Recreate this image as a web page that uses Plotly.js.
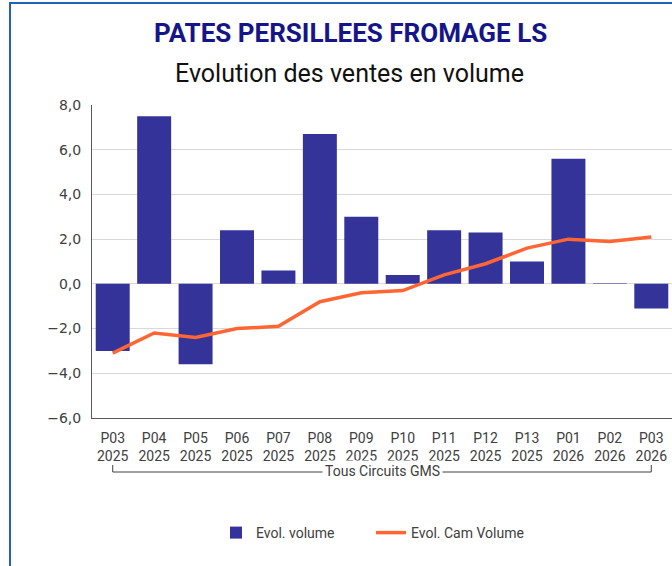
<!DOCTYPE html>
<html>
<head>
<meta charset="utf-8">
<script src="https://cdn.plot.ly/plotly-3.0.1.min.js"></script>
<style>
html,body{margin:0;padding:0;background:#fff;overflow:hidden;}
#chart{width:672px;height:566px;position:absolute;left:0;top:0;}
#frame{position:absolute;left:9px;top:2px;width:800px;height:700px;border-left:2px solid #2063b4;border-top:2px solid #2063b4;pointer-events:none;}
</style>
</head>
<body>
<div id="chart"></div>
<div id="frame"></div>
<script>
const periods = ["P03","P04","P05","P06","P07","P08","P09","P10","P11","P12","P13","P01","P02","P03"];
const years = ["2025","2025","2025","2025","2025","2025","2025","2025","2025","2025","2025","2026","2026","2026"];
const evolVolume = [-3.0, 7.5, -3.6, 2.4, 0.6, 6.7, 3.0, 0.4, 2.4, 2.3, 1.0, 5.6, 0.03, -1.1];
const evolCamVolume = [-3.1, -2.2, -2.4, -2.0, -1.9, -0.8, -0.4, -0.3, 0.4, 0.9, 1.6, 2.0, 1.9, 2.1];
const yTicks = [-6, -4, -2, 0, 2, 4, 6, 8];
const groupLabel = "Tous Circuits GMS";
const chartTitle = "PATES PERSILLEES FROMAGE LS";
const chartSubtitle = "Evolution des ventes en volume";

const idx = periods.map((p, i) => i);
const tickText = periods.map((p, i) => p + "<br>" + years[i]);

const traces = [
  {
    type: "bar", name: "Evol. volume", x: idx, y: evolVolume,
    marker: {color: "#333399"}, width: 0.82, hoverinfo: "skip"
  },
  {
    type: "scatter", mode: "lines", name: "Evol. Cam Volume", x: idx, y: evolCamVolume,
    line: {color: "#ff6633", width: 3.5}, hoverinfo: "skip"
  }
];

const L = 92, R = 0, T = 105, B = 148, W = 672, H = 566;
const pw = W - L - R;
function px(x) { return (x - L) / pw; }

const layout = {
  width: W, height: H,
  margin: {l: L, r: R, t: T, b: B, pad: 0},
  paper_bgcolor: "#ffffff", plot_bgcolor: "#ffffff",
  separators: ", ",
  font: {family: "Roboto, 'Noto Sans', sans-serif", color: "#404040", size: 14},
  showlegend: true,
  legend: {
    orientation: "h", x: px(216), y: -(533 - 418) / 313, xanchor: "left", yanchor: "middle",
    font: {family: "Roboto, sans-serif", size: 14, color: "#404040"},
    itemwidth: 30, entrywidth: 110, traceorder: "normal", bgcolor: "rgba(0,0,0,0)"
  },
  bargap: 0.18,
  xaxis: {
    range: [-0.5, 13.5], tickmode: "array", tickvals: idx, ticktext: tickText,
    showgrid: false, zeroline: false, showline: true, linecolor: "#595959", linewidth: 1,
    ticks: "outside", ticklen: 7, tickcolor: "rgba(0,0,0,0)",
    tickfont: {family: "Roboto, sans-serif", size: 14, color: "#404040"},
    fixedrange: true
  },
  yaxis: {
    range: [-6, 8], tickmode: "array", tickvals: yTicks, tickformat: ".1f",
    showgrid: true, gridcolor: "#d9d9d9", gridwidth: 1,
    zeroline: true, zerolinecolor: "#d9d9d9", zerolinewidth: 1,
    showline: true, linecolor: "#595959", linewidth: 1,
    ticks: "outside", ticklen: 7, tickcolor: "rgba(0,0,0,0)",
    tickfont: {family: "'DejaVu Sans', Verdana, sans-serif", size: 14, color: "#404040"},
    fixedrange: true
  },
  annotations: [
    {
      text: "<b>" + chartTitle + "</b>", xref: "paper", yref: "paper",
      x: px(350), y: 1 + (105 - 33) / 313, xanchor: "center", yanchor: "middle",
      showarrow: false, font: {family: "Roboto, sans-serif", size: 26, color: "#15158a"}
    },
    {
      text: chartSubtitle, xref: "paper", yref: "paper",
      x: px(349), y: 1 + (105 - 74) / 313, xanchor: "center", yanchor: "middle",
      showarrow: false, font: {family: "Roboto, sans-serif", size: 25, color: "#111111"}
    },
    {
      text: groupLabel, xref: "x", yref: "paper",
      x: 6.5, y: -(471 - 418) / 313, xanchor: "center", yanchor: "middle",
      showarrow: false, bgcolor: "#ffffff", borderpad: 2,
      font: {family: "Roboto, sans-serif", size: 14, color: "#404040"}
    }
  ],
  shapes: [
    {type: "line", xref: "x", yref: "paper", x0: 0, x1: 13, y0: -(472 - 418) / 313, y1: -(472 - 418) / 313, line: {color: "#404040", width: 1}, layer: "below"},
    {type: "line", xref: "x", yref: "paper", x0: 0, x1: 0, y0: -(465 - 418) / 313, y1: -(472 - 418) / 313, line: {color: "#404040", width: 1}},
    {type: "line", xref: "x", yref: "paper", x0: 13, x1: 13, y0: -(465 - 418) / 313, y1: -(472 - 418) / 313, line: {color: "#404040", width: 1}}
  ]
};

Plotly.newPlot("chart", traces, layout, {displayModeBar: false, staticPlot: true});
</script>
</body>
</html>
